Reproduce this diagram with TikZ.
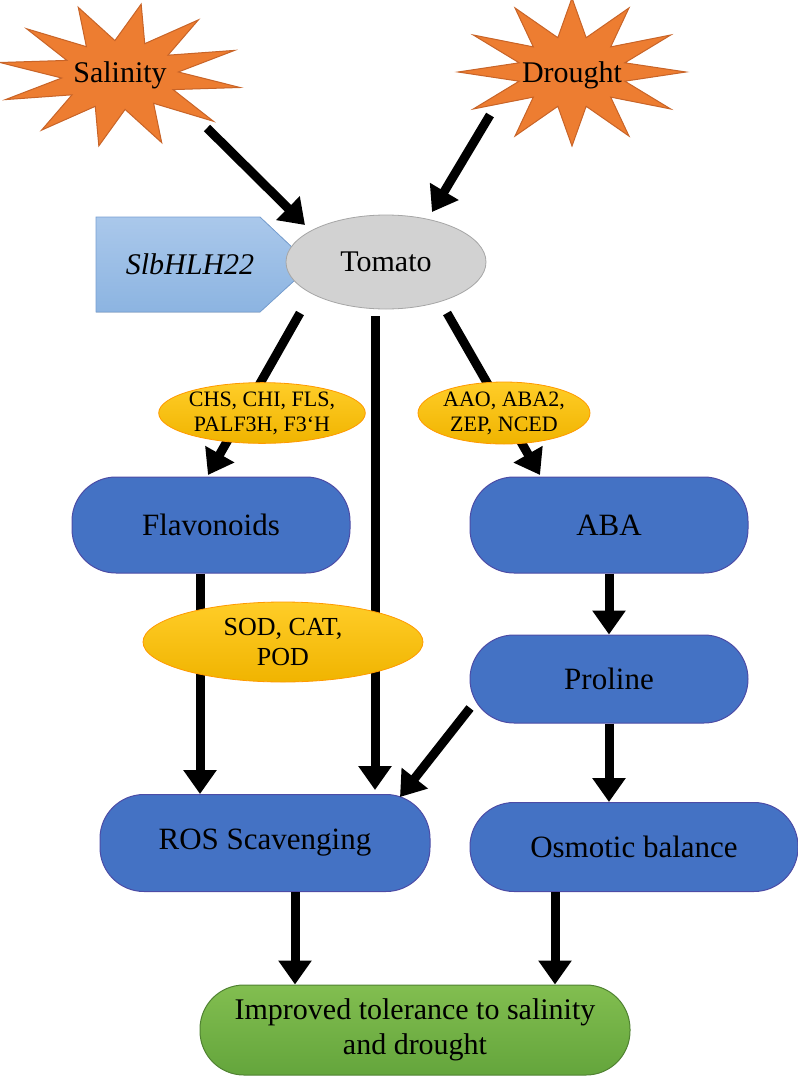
\documentclass[tikz,border=0pt]{standalone}
\usepackage{fontspec}
\setmainfont{Liberation Serif}
\usetikzlibrary{shapes.geometric,shapes.symbols,arrows.meta}
\begin{document}
\begin{tikzpicture}[x=1pt,y=-1pt,
  arr/.style={line width=9pt,-{Triangle[length=24pt,width=32pt]}},
  blue/.style={draw=blue!50!black!70,line width=1pt,fill={rgb,255:red,68;green,114;blue,196},rounded corners=44pt,font=\fontsize{31}{34}\selectfont},
  yel/.style={ellipse,draw=orange!80!yellow,line width=0.8pt,top color={rgb,255:red,255;green,205;blue,40},bottom color={rgb,255:red,240;green,180;blue,0},inner sep=0pt,align=center,font=\fontsize{22}{25}\selectfont},
  starc/.style={fill={rgb,255:red,237;green,125;blue,49},draw={rgb,255:red,200;green,100;blue,40},line width=1pt}]
\useasboundingbox (0,0) rectangle (798,1082);
% stars
\foreach \cx/\cy/\rx/\ry/\rot in {120/75/122/72/10,572/72/114/74/0}{
  \filldraw[starc] plot[samples at={0,...,23}] ({\cx+(0.74+0.26*cos(\x*180))*\rx*cos(\x*15+\rot)},{\cy+(0.74+0.26*cos(\x*180))*\ry*sin(\x*15+\rot)}) -- cycle;
}
\node[font=\fontsize{30}{32}\selectfont] (sal) at (120,75) {Salinity};
\node[font=\fontsize{30}{32}\selectfont] (dro) at (572,75) {Drought};
% gene
\filldraw[draw={rgb,255:red,120;green,160;blue,210},top color={rgb,255:red,170;green,200;blue,235},bottom color={rgb,255:red,140;green,180;blue,225},line width=0.8pt]
  (96,217) -- (260,217) -- (295,250) -- (295,280) -- (260,312) -- (96,312) -- cycle;
\node[font=\itshape\fontsize{30}{32}\selectfont] (gene) at (190,264) {SlbHLH22};
\node[ellipse,minimum width=200pt,minimum height=94pt,fill={rgb,255:red,210;green,210;blue,210},draw=gray!70,line width=0.8pt,font=\fontsize{30}{32}\selectfont] (tom) at (386,262) {Tomato};
% arrows top
\coordinate (s1) at (207,128); \coordinate (t1) at (305,225);
\coordinate (d1) at (490,115); \coordinate (t2) at (432,212);
\draw[arr] (s1) -- (t1);
\draw[arr] (d1) -- (t2);
% boxes
\node[blue,minimum width=278pt,minimum height=96pt] (fla) at (211,525) {Flavonoids};
\node[blue,minimum width=278pt,minimum height=96pt] (aba) at (609,525) {ABA};
\node[blue,minimum width=278pt,minimum height=88pt] (pro) at (609,679) {Proline};
\node[blue,minimum width=330pt,minimum height=97pt] (ros) at (265,843) {ROS Scavenging};
\node[blue,minimum width=328pt,minimum height=89pt] (osm) at (634,847) {Osmotic balance};
\node[draw={rgb,255:red,80;green,130;blue,50},line width=1pt,top color={rgb,255:red,130;green,190;blue,80},bottom color={rgb,255:red,100;green,165;blue,60},rounded corners=44pt,minimum width=430pt,minimum height=90pt,align=center,font=\fontsize{30}{35}\selectfont] (imp) at (415,1030) {Improved tolerance to salinity\\and drought};
% arrows
\coordinate (a1) at (300,313); \coordinate (a2) at (208,475);
\coordinate (m1) at (375,316); \coordinate (m2) at (375,790);
\coordinate (r1) at (447,313); \coordinate (r2) at (540,475);
\draw[arr] (a1) -- (a2);
\draw[arr] (r1) -- (r2);
\draw[arr] (m1) -- (m2);
\draw[arr] (fla.south -| 200,0) -- (ros.north -| 200,0);
\draw[arr] (aba.south) -- (pro.north);
\draw[arr] (pro.south) -- (osm.north -| pro.south);
\coordinate (p1) at (470,708); \coordinate (p2) at (400,797);
\draw[arr] (p1) -- (p2);
\draw[arr] (ros.south -| 295,0) -- (imp.north -| 295,0);
\draw[arr] (osm.south -| 555,0) -- (imp.north -| 555,0);
% enzymes
\node[yel,minimum width=176pt,minimum height=60pt] (e1) at (262,413) {CHS, CHI, FLS,\\PALF3H, F3`H};
\node[yel,minimum width=158pt,minimum height=62pt] (e2) at (504,413) {AAO, ABA2,\\ZEP, NCED};
\node[yel,minimum width=280pt,minimum height=80pt,font=\fontsize{26}{30}\selectfont] (e3) at (283,642) {SOD, CAT,\\POD};
\end{tikzpicture}
\end{document}
